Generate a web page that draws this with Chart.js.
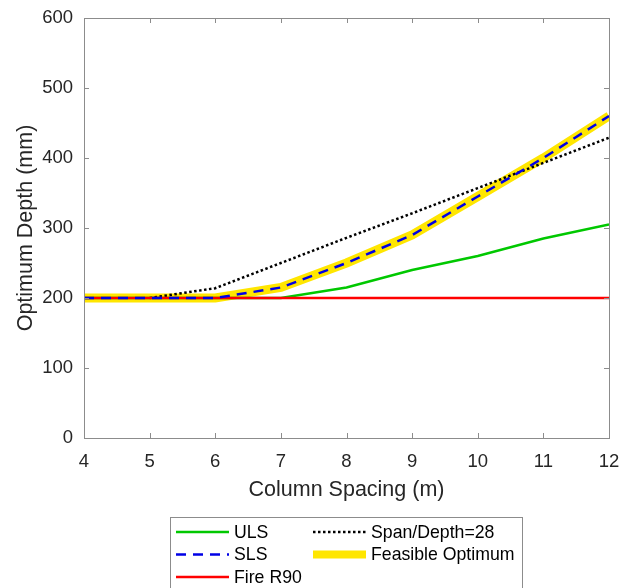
<!DOCTYPE html>
<html>
<head>
<meta charset="utf-8">
<script src="https://cdn.jsdelivr.net/npm/chart.js@4"></script>
<style>
  html, body { margin: 0; padding: 0; background: #fff; }
  #wrap { width: 630px; height: 588px; }
</style>
</head>
<body>
<div id="wrap"><canvas id="chart" width="630" height="588"></canvas></div>
<script>
// Column spacing (m)
const spacing = [4, 5, 6, 7, 8, 9, 10, 11, 12];

// Optimum depth (mm)
const uls = [200, 200, 200, 200, 215, 240, 260, 285, 305];
const sls = [200, 200, 200, 215, 250, 290, 345, 400, 460];
const fireR90 = [200, 200, 200, 200, 200, 200, 200, 200, 200];
const spanDepth28 = [null, 200, 214, 250, 286, 321, 357, 393, 429];
const feasible = [200, 200, 200, 215, 250, 290, 345, 400, 460];

const yTicks = [0, 100, 200, 300, 400, 500, 600];

const FONT = '"Liberation Sans", Arial, sans-serif';
const AXIS = '#262626';
const BOX = '#8c8c8c';

const toPts = (arr) => spacing.map((x, i) => ({ x: x, y: arr[i] }));

// Kasten, Ticks nach innen und Legende (MATLAB-Stil)
const matlabBox = {
  id: 'matlabBox',
  afterDraw(chart) {
    const { ctx, chartArea: a, scales } = chart;
    ctx.save();
    ctx.strokeStyle = BOX;
    ctx.lineWidth = 1;
    ctx.strokeRect(a.left + 0.5, a.top + 0.5, a.right - a.left, a.bottom - a.top);
    ctx.beginPath();
    yTicks.forEach(v => {
      const y = Math.round(scales.y.getPixelForValue(v)) + 0.5;
      ctx.moveTo(a.left, y); ctx.lineTo(a.left + 5, y);
      ctx.moveTo(a.right, y); ctx.lineTo(a.right - 5, y);
    });
    spacing.forEach(v => {
      const x = Math.round(scales.x.getPixelForValue(v)) + 0.5;
      ctx.moveTo(x, a.bottom); ctx.lineTo(x, a.bottom - 5);
      ctx.moveTo(x, a.top); ctx.lineTo(x, a.top + 5);
    });
    ctx.stroke();

    // Legende
    const lx = 170, ly = 517, lw = 352, lh = 80;
    ctx.fillStyle = '#fff';
    ctx.fillRect(lx, ly, lw, lh);
    ctx.strokeStyle = BOX;
    ctx.strokeRect(lx + 0.5, ly + 0.5, lw, lh);
    const items = [
      { ds: 3, col: 0, row: 0 },
      { ds: 0, col: 0, row: 1 },
      { ds: 1, col: 0, row: 2 },
      { ds: 2, col: 1, row: 0 },
      { ds: 4, col: 1, row: 1 }
    ];
    ctx.font = '17.7px ' + FONT;
    ctx.textBaseline = 'middle';
    items.forEach(it => {
      const d = chart.data.datasets[it.ds];
      const x0 = it.col === 0 ? 176 : 313;
      const y = 532 + it.row * 22.5;
      ctx.beginPath();
      ctx.strokeStyle = d.borderColor;
      ctx.lineWidth = it.ds === 4 ? 8 : d.borderWidth;
      ctx.setLineDash(d.borderDash || []);
      ctx.moveTo(x0, y); ctx.lineTo(x0 + 53, y);
      ctx.stroke();
      ctx.setLineDash([]);
      ctx.fillStyle = '#000';
      ctx.fillText(d.label, x0 + 58, y + 1);
    });
    ctx.restore();
  }
};

new Chart(document.getElementById('chart'), {
  type: 'line',
  data: {
    datasets: [
      { label: 'SLS', data: toPts(sls), borderColor: '#0000e6', borderWidth: 2.5, borderDash: [10, 7] },
      { label: 'Fire R90', data: toPts(fireR90), borderColor: '#ff0000', borderWidth: 2.5 },
      { label: 'Span/Depth=28', data: toPts(spanDepth28), borderColor: '#000000', borderWidth: 2.5, borderDash: [2.5, 2.5] },
      { label: 'ULS', data: toPts(uls), borderColor: '#00c800', borderWidth: 2.5 },
      { label: 'Feasible Optimum', data: toPts(feasible), borderColor: '#ffe600', borderWidth: 9 }
    ]
  },
  options: {
    responsive: false,
    animation: false,
    events: [],
    elements: { point: { radius: 0 }, line: { tension: 0, borderCapStyle: 'butt', borderJoinStyle: 'miter' } },
    layout: { padding: { top: 18, right: 21, left: 0, bottom: 85 } },
    plugins: { legend: { display: false }, tooltip: { enabled: false } },
    scales: {
      x: {
        type: 'linear', min: 4, max: 12,
        afterBuildTicks: s => { s.ticks = spacing.map(v => ({ value: v })); },
        afterFit: s => { s.height = 65; },
        grid: { display: false },
        border: { display: false },
        ticks: { color: AXIS, font: { family: FONT, size: 18.5 }, padding: 5 },
        title: { display: true, text: 'Column Spacing (m)', color: AXIS, font: { family: FONT, size: 21.5 }, padding: { top: 0, bottom: 0 } }
      },
      y: {
        min: 0, max: 600,
        afterBuildTicks: s => { s.ticks = yTicks.map(v => ({ value: v })); },
        afterFit: s => { s.width = 84; },
        grid: { display: false },
        border: { display: false },
        ticks: { color: AXIS, font: { family: FONT, size: 18.5 }, padding: 3 },
        title: { display: true, text: 'Optimum Depth (mm)', color: AXIS, font: { family: FONT, size: 21.5 }, padding: { top: 13, bottom: 0 } }
      }
    }
  },
  plugins: [matlabBox]
});
</script>
</body>
</html>
